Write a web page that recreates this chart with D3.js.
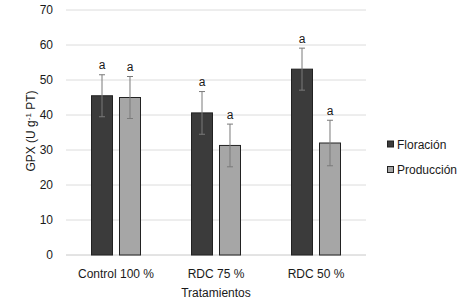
<!DOCTYPE html>
<html>
<head>
<meta charset="utf-8">
<script src="https://cdn.jsdelivr.net/npm/d3@7"></script>
<style>
  body { margin: 0; background: #fff; }
  text { font-family: "Liberation Sans", Arial, sans-serif; fill: #1a1a1a; }
</style>
</head>
<body>
<div id="chart"></div>
<script>
// ---- Data ----
const categories = ["Control 100 %", "RDC 75 %", "RDC 50 %"];
const series = ["Floración", "Producción"];
const floracion = [45.5, 40.6, 53.1];
const produccion = [45.0, 31.3, 32.0];
const floracionErr = [6.0, 6.1, 6.0];
const produccionErr = [6.0, 6.1, 6.5];
const letters = [["a", "a"], ["a", "a"], ["a", "a"]];
const yTicks = [0, 10, 20, 30, 40, 50, 60, 70];

const width = 464, height = 306;
const colors = { "Floración": "#3b3b3b", "Producción": "#a6a6a6" };

const rows = categories.map((c, i) => ({
    cat: c,
    vals: [
        { s: series[0], v: floracion[i], e: floracionErr[i], l: letters[i][0] },
        { s: series[1], v: produccion[i], e: produccionErr[i], l: letters[i][1] }
    ]
}));

const svg = d3.select("#chart").append("svg")
    .attr("width", width)
    .attr("height", height);

// ---- Scales ----
const x0 = d3.scaleBand().domain(categories).range([66, 366]);
const x1 = d3.scaleBand().domain(series)
    .range([0, x0.bandwidth()])
    .paddingInner(6 / 28)
    .paddingOuter(0.893);
const y = d3.scaleLinear().domain([0, 70]).range([255, 10]);

// ---- Gridlines ----
svg.append("g").selectAll("line")
    .data(yTicks)
    .join("line")
    .attr("x1", 66).attr("x2", 366)
    .attr("y1", d => y(d)).attr("y2", d => y(d))
    .attr("stroke", d => d === 0 ? "#c8c8c8" : "#dcdcdc")
    .attr("stroke-width", 1);

// ---- Y axis labels ----
const yAxis = svg.append("g")
    .attr("transform", "translate(53,0)")
    .call(d3.axisLeft(y).tickValues(yTicks).tickSize(0).tickPadding(0));
yAxis.select(".domain").remove();
yAxis.selectAll("text")
    .style("font-size", "12px")
    .style("font-family", "Liberation Sans, Arial, sans-serif")
    .attr("fill", "#1a1a1a");

// ---- Bars ----
const groups = svg.append("g").selectAll("g")
    .data(rows)
    .join("g")
    .attr("transform", d => `translate(${x0(d.cat)},0)`);

groups.selectAll("rect")
    .data(d => d.vals)
    .join("rect")
    .attr("x", d => x1(d.s) + 0.5)
    .attr("y", d => y(d.v))
    .attr("width", x1.bandwidth() - 1)
    .attr("height", d => y(0) - y(d.v))
    .attr("fill", d => colors[d.s])
    .attr("stroke", "#222")
    .attr("stroke-width", 1);

// ---- Error bars ----
const err = groups.selectAll(".err")
    .data(d => d.vals)
    .join("g")
    .attr("class", "err")
    .attr("stroke", "#7a7a7a")
    .attr("stroke-width", 1);

err.append("line")
    .attr("x1", d => x1(d.s) + x1.bandwidth() / 2)
    .attr("x2", d => x1(d.s) + x1.bandwidth() / 2)
    .attr("y1", d => y(d.v + d.e))
    .attr("y2", d => y(d.v - d.e));

[1, -1].forEach(sign => {
    err.append("line")
        .attr("x1", d => x1(d.s) + x1.bandwidth() / 2 - 3)
        .attr("x2", d => x1(d.s) + x1.bandwidth() / 2 + 3)
        .attr("y1", d => y(d.v + sign * d.e))
        .attr("y2", d => y(d.v + sign * d.e));
});

// ---- Significance letters ----
groups.selectAll(".letter")
    .data(d => d.vals)
    .join("text")
    .attr("class", "letter")
    .attr("x", d => x1(d.s) + x1.bandwidth() / 2)
    .attr("y", d => y(d.v + d.e) - 5.5)
    .attr("text-anchor", "middle")
    .style("font-size", "12px")
    .text(d => d.l);

// ---- X axis labels ----
svg.append("g").selectAll("text")
    .data(categories)
    .join("text")
    .attr("x", d => x0(d) + x0.bandwidth() / 2)
    .attr("y", 278)
    .attr("text-anchor", "middle")
    .style("font-size", "12px")
    .text(d => d);

svg.append("text")
    .attr("x", 216)
    .attr("y", 297)
    .attr("text-anchor", "middle")
    .style("font-size", "12px")
    .text("Tratamientos");

const yLabel = svg.append("text")
    .attr("transform", "translate(35,131) rotate(-90)")
    .attr("text-anchor", "middle")
    .style("font-size", "12px");
yLabel.append("tspan").text("GPX (U g");
yLabel.append("tspan").attr("dy", -4).style("font-size", "8px").text("-1");
yLabel.append("tspan").attr("dy", 4).text(" PT)");

// ---- Legend ----
const legend = svg.append("g")
    .attr("transform", "translate(387,0)");

const legendItem = legend.selectAll("g")
    .data(series)
    .join("g")
    .attr("transform", (d, i) => `translate(0,${i === 0 ? 144 : 169.5})`);

legendItem.append("rect")
    .attr("x", 0.5).attr("y", -3)
    .attr("width", 6).attr("height", 6)
    .attr("fill", d => colors[d])
    .attr("stroke", "#222")
    .attr("stroke-width", 1);

legendItem.append("text")
    .attr("x", 10)
    .attr("y", 4.5)
    .style("font-size", "12px")
    .text(d => d);
</script>
</body>
</html>
